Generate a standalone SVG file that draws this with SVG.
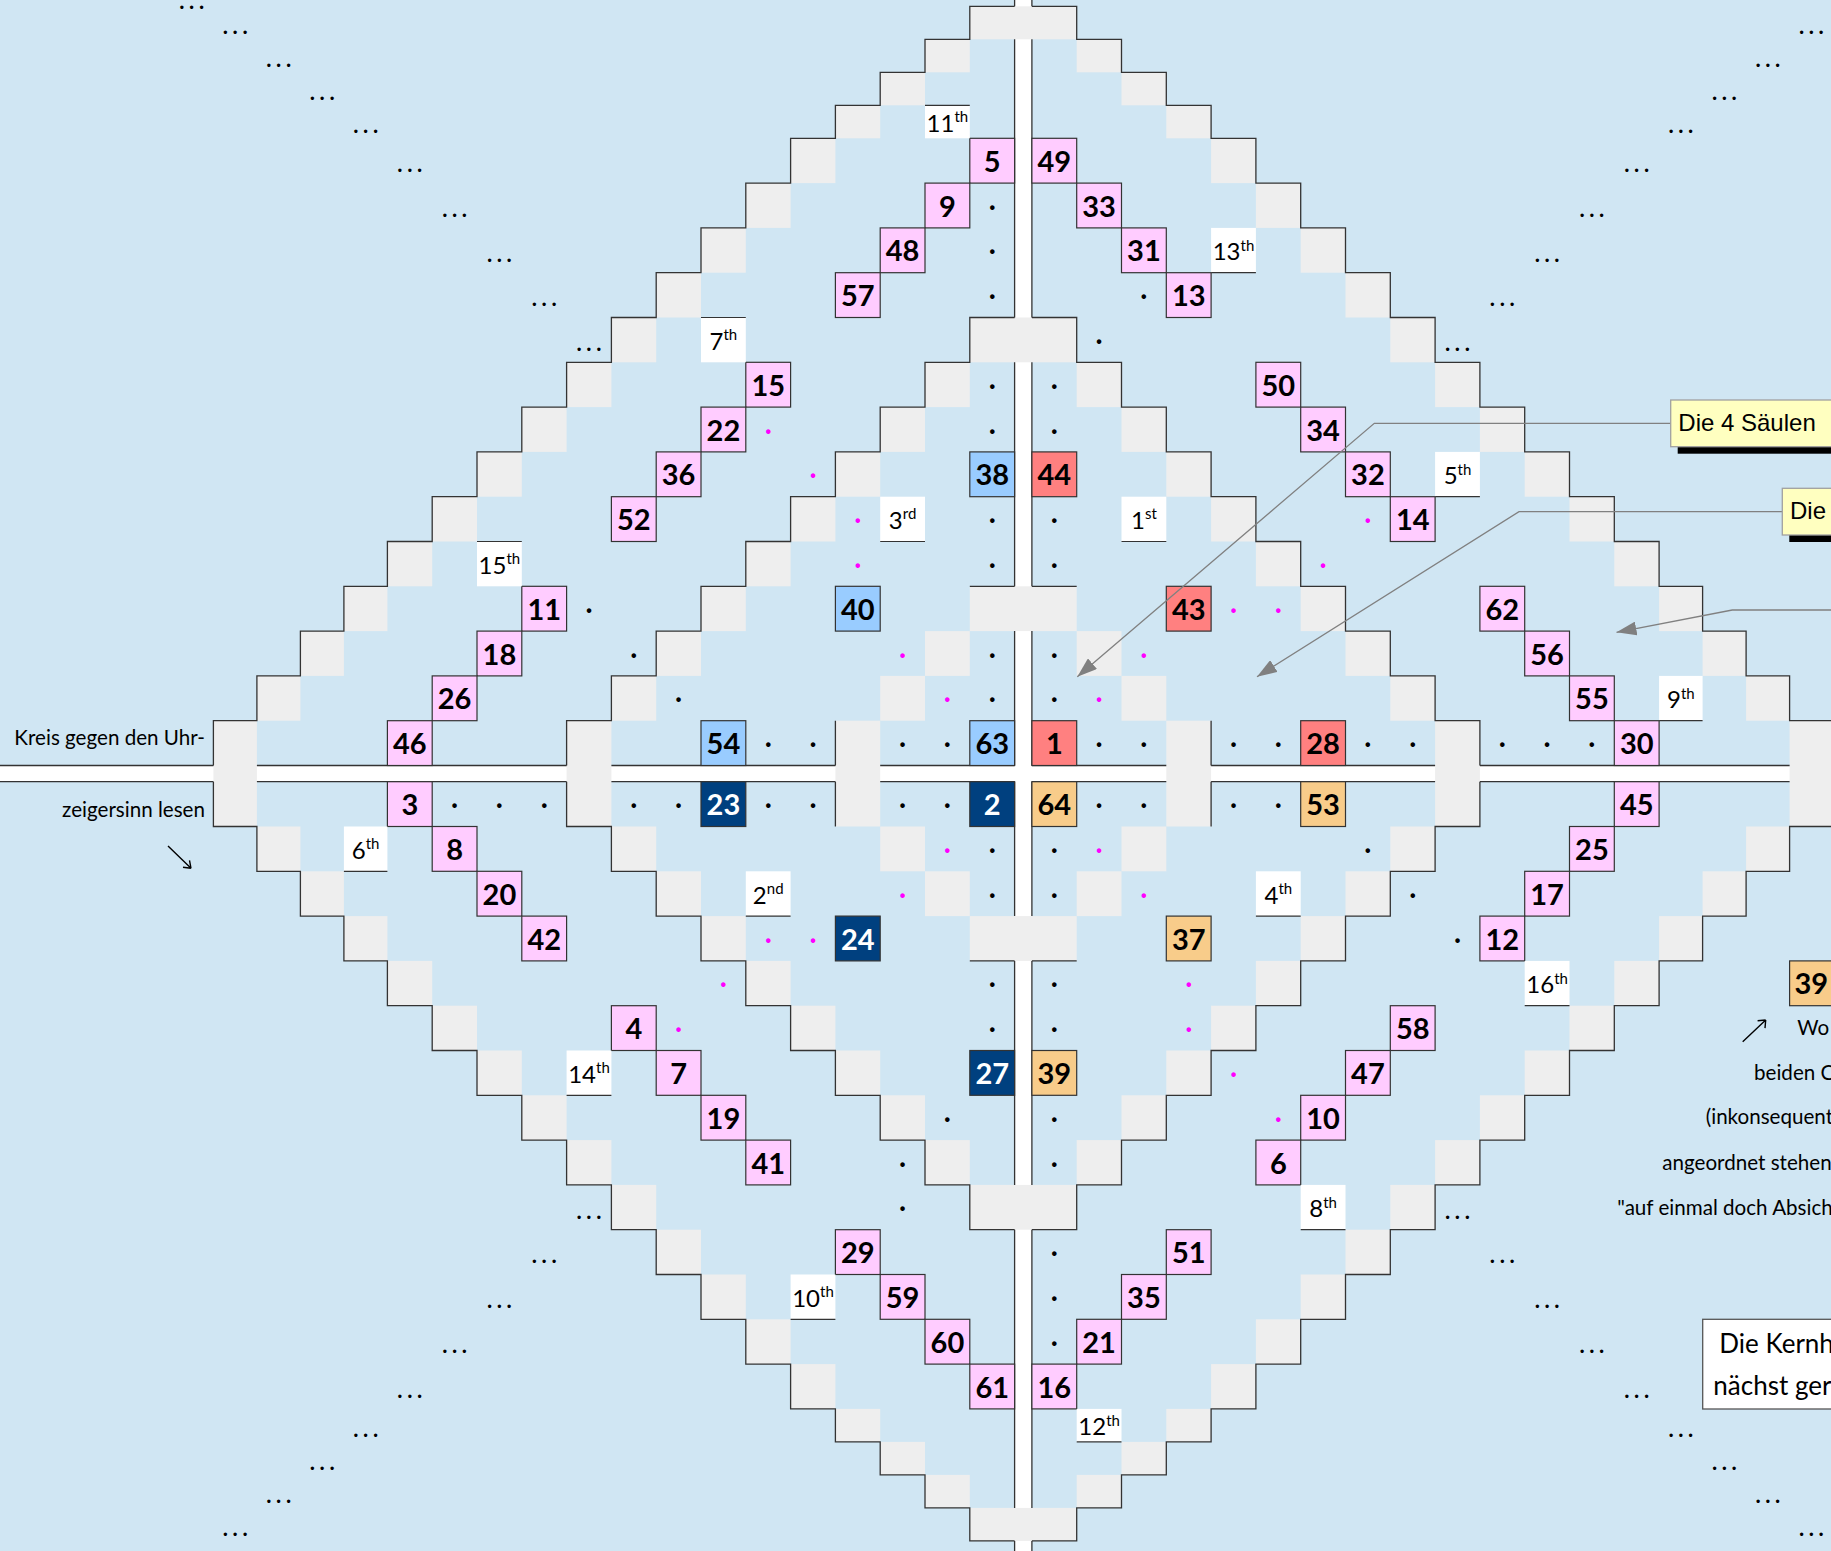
<svg xmlns="http://www.w3.org/2000/svg" width="1831" height="1551" viewBox="0 0 1831 1551">
<defs>
<style>
.bg{fill:#D0E6F3}
.bar{fill:#fff}
.g{fill:#EEEEEE}
.ol{fill:none;stroke:#333;stroke-width:1.3}
.pk{fill:#FFCCFF;stroke:#333;stroke-width:1.2}
.lb{fill:#99CCFF;stroke:#333;stroke-width:1.2}
.sa{fill:#FF8080;stroke:#333;stroke-width:1.2}
.nv{fill:#00407F;stroke:#333;stroke-width:1.2}
.pe{fill:#F8CC8A;stroke:#333;stroke-width:1.2}
.wl{fill:#fff}
.bl{fill:none;stroke:#333;stroke-width:1.2}
.num{font-family:Lato,"Open Sans",sans-serif;font-weight:700;font-size:29px;text-anchor:middle;fill:#000}
.wt{fill:#fff}
.lbl{font-family:Lato,"Open Sans",sans-serif;font-size:24px;text-anchor:middle;fill:#000}
.sup{font-size:15px}
.d{font-family:Lato,"Open Sans",sans-serif;font-weight:700;font-size:24px;text-anchor:middle;fill:#000}
.m{fill:#FF00FF}
.el{font-family:Lato,"Open Sans",sans-serif;font-weight:700;font-size:22px;letter-spacing:4.6px;text-anchor:middle;fill:#000}
.ann{font-family:Lato,"Open Sans",sans-serif;font-size:20.6px;fill:#000}
.cal{font-family:"Liberation Sans",Arial,sans-serif;font-size:24px;fill:#000}
.kern{font-family:Lato,"Open Sans",sans-serif;font-size:26px;fill:#000}
.lead{fill:none;stroke:#808080;stroke-width:1.3}
.arr{fill:none;stroke:#000;stroke-width:1.4}
</style>
<marker id="ah" viewBox="0 0 20 14" refX="20" refY="7" markerWidth="20" markerHeight="14" markerUnits="userSpaceOnUse" orient="auto">
<path d="M0,0 L20,7 L0,14 z" fill="#808080"/>
</marker>
</defs>

<rect class="bg" x="0" y="0" width="1831" height="1551"/>

<g id="bars">
<rect class="bar" x="1014.6" y="0" width="17.3" height="1551"/>
<rect class="bar" x="0" y="765.5" width="1831" height="16.2"/>
</g>

<g id="stairs">
<rect class="g" x="969.8" y="6.3" width="106.9" height="33"/>
<rect class="g" x="925" y="39.3" width="44.8" height="33"/><rect class="g" x="1076.7" y="39.3" width="44.8" height="33"/>
<rect class="g" x="880.2" y="72.3" width="44.8" height="33"/><rect class="g" x="1121.5" y="72.3" width="44.8" height="33"/>
<rect class="g" x="835.4" y="105.3" width="44.8" height="33"/><rect class="g" x="1166.3" y="105.3" width="44.8" height="33"/>
<rect class="g" x="790.6" y="138.3" width="44.8" height="44.8"/><rect class="g" x="1211.1" y="138.3" width="44.8" height="44.8"/>
<rect class="g" x="745.8" y="183.1" width="44.8" height="44.8"/><rect class="g" x="1255.9" y="183.1" width="44.8" height="44.8"/>
<rect class="g" x="701" y="227.9" width="44.8" height="44.8"/><rect class="g" x="1300.7" y="227.9" width="44.8" height="44.8"/>
<rect class="g" x="656.2" y="272.7" width="44.8" height="44.8"/><rect class="g" x="1345.5" y="272.7" width="44.8" height="44.8"/>
<rect class="g" x="611.4" y="317.5" width="44.8" height="44.8"/><rect class="g" x="1390.3" y="317.5" width="44.8" height="44.8"/>
<rect class="g" x="566.6" y="362.3" width="44.8" height="44.8"/><rect class="g" x="1435.1" y="362.3" width="44.8" height="44.8"/>
<rect class="g" x="521.8" y="407.1" width="44.8" height="44.8"/><rect class="g" x="1479.9" y="407.1" width="44.8" height="44.8"/>
<rect class="g" x="477" y="451.9" width="44.8" height="44.8"/><rect class="g" x="1524.7" y="451.9" width="44.8" height="44.8"/>
<rect class="g" x="432.2" y="496.7" width="44.8" height="44.8"/><rect class="g" x="1569.5" y="496.7" width="44.8" height="44.8"/>
<rect class="g" x="387.4" y="541.5" width="44.8" height="44.8"/><rect class="g" x="1614.3" y="541.5" width="44.8" height="44.8"/>
<rect class="g" x="343.9" y="586.3" width="43.5" height="44.8"/><rect class="g" x="1659.1" y="586.3" width="43.5" height="44.8"/>
<rect class="g" x="300.4" y="631.1" width="43.5" height="44.8"/><rect class="g" x="1702.6" y="631.1" width="43.5" height="44.8"/>
<rect class="g" x="256.9" y="675.9" width="43.5" height="44.8"/><rect class="g" x="1746.1" y="675.9" width="43.5" height="44.8"/>
<rect class="g" x="213.4" y="720.7" width="43.5" height="105.8"/><rect class="g" x="1789.6" y="720.7" width="43.5" height="105.8"/>
<rect class="g" x="256.9" y="826.5" width="43.5" height="44.8"/><rect class="g" x="1746.1" y="826.5" width="43.5" height="44.8"/>
<rect class="g" x="300.4" y="871.3" width="43.5" height="44.8"/><rect class="g" x="1702.6" y="871.3" width="43.5" height="44.8"/>
<rect class="g" x="343.9" y="916.1" width="43.5" height="44.8"/><rect class="g" x="1659.1" y="916.1" width="43.5" height="44.8"/>
<rect class="g" x="387.4" y="960.9" width="44.8" height="44.8"/><rect class="g" x="1614.3" y="960.9" width="44.8" height="44.8"/>
<rect class="g" x="432.2" y="1005.7" width="44.8" height="44.8"/><rect class="g" x="1569.5" y="1005.7" width="44.8" height="44.8"/>
<rect class="g" x="477" y="1050.5" width="44.8" height="44.8"/><rect class="g" x="1524.7" y="1050.5" width="44.8" height="44.8"/>
<rect class="g" x="521.8" y="1095.3" width="44.8" height="44.8"/><rect class="g" x="1479.9" y="1095.3" width="44.8" height="44.8"/>
<rect class="g" x="566.6" y="1140.1" width="44.8" height="44.8"/><rect class="g" x="1435.1" y="1140.1" width="44.8" height="44.8"/>
<rect class="g" x="611.4" y="1184.9" width="44.8" height="44.8"/><rect class="g" x="1390.3" y="1184.9" width="44.8" height="44.8"/>
<rect class="g" x="656.2" y="1229.7" width="44.8" height="44.8"/><rect class="g" x="1345.5" y="1229.7" width="44.8" height="44.8"/>
<rect class="g" x="701" y="1274.5" width="44.8" height="44.8"/><rect class="g" x="1300.7" y="1274.5" width="44.8" height="44.8"/>
<rect class="g" x="745.8" y="1319.3" width="44.8" height="44.8"/><rect class="g" x="1255.9" y="1319.3" width="44.8" height="44.8"/>
<rect class="g" x="790.6" y="1364.1" width="44.8" height="44.8"/><rect class="g" x="1211.1" y="1364.1" width="44.8" height="44.8"/>
<rect class="g" x="835.4" y="1408.9" width="44.8" height="33"/><rect class="g" x="1166.3" y="1408.9" width="44.8" height="33"/>
<rect class="g" x="880.2" y="1441.9" width="44.8" height="33"/><rect class="g" x="1121.5" y="1441.9" width="44.8" height="33"/>
<rect class="g" x="925" y="1474.9" width="44.8" height="33"/><rect class="g" x="1076.7" y="1474.9" width="44.8" height="33"/>
<rect class="g" x="969.8" y="1507.9" width="106.9" height="33"/>

<rect class="g" x="969.8" y="317.5" width="106.9" height="44.8"/>
<rect class="g" x="925" y="362.3" width="44.8" height="44.8"/><rect class="g" x="1076.7" y="362.3" width="44.8" height="44.8"/>
<rect class="g" x="880.2" y="407.1" width="44.8" height="44.8"/><rect class="g" x="1121.5" y="407.1" width="44.8" height="44.8"/>
<rect class="g" x="835.4" y="451.9" width="44.8" height="44.8"/><rect class="g" x="1166.3" y="451.9" width="44.8" height="44.8"/>
<rect class="g" x="790.6" y="496.7" width="44.8" height="44.8"/><rect class="g" x="1211.1" y="496.7" width="44.8" height="44.8"/>
<rect class="g" x="745.8" y="541.5" width="44.8" height="44.8"/><rect class="g" x="1255.9" y="541.5" width="44.8" height="44.8"/>
<rect class="g" x="701" y="586.3" width="44.8" height="44.8"/><rect class="g" x="1300.7" y="586.3" width="44.8" height="44.8"/>
<rect class="g" x="656.2" y="631.1" width="44.8" height="44.8"/><rect class="g" x="1345.5" y="631.1" width="44.8" height="44.8"/>
<rect class="g" x="611.4" y="675.9" width="44.8" height="44.8"/><rect class="g" x="1390.3" y="675.9" width="44.8" height="44.8"/>
<rect class="g" x="566.6" y="720.7" width="44.8" height="105.8"/><rect class="g" x="1435.1" y="720.7" width="44.8" height="105.8"/>
<rect class="g" x="611.4" y="826.5" width="44.8" height="44.8"/><rect class="g" x="1390.3" y="826.5" width="44.8" height="44.8"/>
<rect class="g" x="656.2" y="871.3" width="44.8" height="44.8"/><rect class="g" x="1345.5" y="871.3" width="44.8" height="44.8"/>
<rect class="g" x="701" y="916.1" width="44.8" height="44.8"/><rect class="g" x="1300.7" y="916.1" width="44.8" height="44.8"/>
<rect class="g" x="745.8" y="960.9" width="44.8" height="44.8"/><rect class="g" x="1255.9" y="960.9" width="44.8" height="44.8"/>
<rect class="g" x="790.6" y="1005.7" width="44.8" height="44.8"/><rect class="g" x="1211.1" y="1005.7" width="44.8" height="44.8"/>
<rect class="g" x="835.4" y="1050.5" width="44.8" height="44.8"/><rect class="g" x="1166.3" y="1050.5" width="44.8" height="44.8"/>
<rect class="g" x="880.2" y="1095.3" width="44.8" height="44.8"/><rect class="g" x="1121.5" y="1095.3" width="44.8" height="44.8"/>
<rect class="g" x="925" y="1140.1" width="44.8" height="44.8"/><rect class="g" x="1076.7" y="1140.1" width="44.8" height="44.8"/>
<rect class="g" x="969.8" y="1184.9" width="106.9" height="44.8"/>

<rect class="g" x="969.8" y="586.3" width="106.9" height="44.8"/>
<rect class="g" x="925" y="631.1" width="44.8" height="44.8"/><rect class="g" x="1076.7" y="631.1" width="44.8" height="44.8"/>
<rect class="g" x="880.2" y="675.9" width="44.8" height="44.8"/><rect class="g" x="1121.5" y="675.9" width="44.8" height="44.8"/>
<rect class="g" x="835.4" y="720.7" width="44.8" height="105.8"/><rect class="g" x="1166.3" y="720.7" width="44.8" height="105.8"/>
<rect class="g" x="880.2" y="826.5" width="44.8" height="44.8"/><rect class="g" x="1121.5" y="826.5" width="44.8" height="44.8"/>
<rect class="g" x="925" y="871.3" width="44.8" height="44.8"/><rect class="g" x="1076.7" y="871.3" width="44.8" height="44.8"/>
<rect class="g" x="969.8" y="916.1" width="106.9" height="44.8"/>
</g>

<g id="outlines">
<path class="ol" d="M1014.6 6.3 H969.8 V39.3 H925 V72.3 H880.2 V105.3 H835.4 V138.3 H790.6 V183.1 H745.8 V227.9 H701 V272.7 H656.2 V317.5 H611.4 V362.3 H566.6 V407.1 H521.8 V451.9 H477 V496.7 H432.2 V541.5 H387.4 V586.3 H343.9 V631.1 H300.4 V675.9 H256.9 V720.7 H213.4 V765.5"/>
<path class="ol" d="M213.4 781.7 V826.5 H256.9 V871.3 H300.4 V916.1 H343.9 V960.9 H387.4 V1005.7 H432.2 V1050.5 H477 V1095.3 H521.8 V1140.1 H566.6 V1184.9 H611.4 V1229.7 H656.2 V1274.5 H701 V1319.3 H745.8 V1364.1 H790.6 V1408.9 H835.4 V1441.9 H880.2 V1474.9 H925 V1507.9 H969.8 V1540.9 H1014.6"/>
<path class="ol" d="M1031.9 1540.9 H1076.7 V1507.9 H1121.5 V1474.9 H1166.3 V1441.9 H1211.1 V1408.9 H1255.9 V1364.1 H1300.7 V1319.3 H1345.5 V1274.5 H1390.3 V1229.7 H1435.1 V1184.9 H1479.9 V1140.1 H1524.7 V1095.3 H1569.5 V1050.5 H1614.3 V1005.7 H1659.1 V960.9 H1702.6 V916.1 H1746.1 V871.3 H1789.6 V826.5 H1833.1"/>
<path class="ol" d="M1833.1 720.7 H1789.6 V675.9 H1746.1 V631.1 H1702.6 V586.3 H1659.1 V541.5 H1614.3 V496.7 H1569.5 V451.9 H1524.7 V407.1 H1479.9 V362.3 H1435.1 V317.5 H1390.3 V272.7 H1345.5 V227.9 H1300.7 V183.1 H1255.9 V138.3 H1211.1 V105.3 H1166.3 V72.3 H1121.5 V39.3 H1076.7 V6.3 H1031.9"/>
<path class="ol" d="M1014.6 317.5 H969.8 V362.3 H925 V407.1 H880.2 V451.9 H835.4 V496.7 H790.6 V541.5 H745.8 V586.3 H701 V631.1 H656.2 V675.9 H611.4 V720.7 H566.6 V765.5"/>
<path class="ol" d="M566.6 781.7 V826.5 H611.4 V871.3 H656.2 V916.1 H701 V960.9 H745.8 V1005.7 H790.6 V1050.5 H835.4 V1095.3 H880.2 V1140.1 H925 V1184.9 H969.8 V1229.7 H1014.6"/>
<path class="ol" d="M1031.9 1229.7 H1076.7 V1184.9 H1121.5 V1140.1 H1166.3 V1095.3 H1211.1 V1050.5 H1255.9 V1005.7 H1300.7 V960.9 H1345.5 V916.1 H1390.3 V871.3 H1435.1 V826.5 H1479.9 V781.7"/>
<path class="ol" d="M1479.9 765.5 V720.7 H1435.1 V675.9 H1390.3 V631.1 H1345.5 V586.3 H1300.7 V541.5 H1255.9 V496.7 H1211.1 V451.9 H1166.3 V407.1 H1121.5 V362.3 H1076.7 V317.5 H1031.9"/>
<path class="ol" d="M969.8 586.3 H1014.6 M1031.9 586.3 H1076.7 M969.8 960.9 H1014.6 M1031.9 960.9 H1076.7 M835.4 720.7 V765.5 M835.4 781.7 V826.5 M1211.1 720.7 V765.5 M1211.1 781.7 V826.5"/>
<path class="ol" d="M1014.6 0 V6.3 M1014.6 39.3 V317.5 M1014.6 362.3 V586.3 M1014.6 631.1 V765.5 M1014.6 781.7 V916.1 M1014.6 960.9 V1184.9 M1014.6 1229.7 V1507.9 M1014.6 1540.9 V1551 M1031.9 0 V6.3 M1031.9 39.3 V317.5 M1031.9 362.3 V586.3 M1031.9 631.1 V765.5 M1031.9 781.7 V916.1 M1031.9 960.9 V1184.9 M1031.9 1229.7 V1507.9 M1031.9 1540.9 V1551"/>
<path class="ol" d="M0 765.5 H213.4 M256.9 765.5 H566.6 M611.4 765.5 H835.4 M880.2 765.5 H1014.6 M1031.9 765.5 H1166.3 M1211.1 765.5 H1435.1 M1479.9 765.5 H1789.6 M0 781.7 H213.4 M256.9 781.7 H566.6 M611.4 781.7 H835.4 M880.2 781.7 H1014.6 M1031.9 781.7 H1166.3 M1211.1 781.7 H1435.1 M1479.9 781.7 H1789.6"/>
</g>

<g id="cells">
<g id="c5"><rect class="pk" x="969.8" y="138.3" width="44.8" height="44.8"/><text class="num" x="992.2" y="171.7">5</text></g>
<g id="c9"><rect class="pk" x="925" y="183.1" width="44.8" height="44.8"/><text class="num" x="947.4" y="216.5">9</text></g>
<g id="c48"><rect class="pk" x="880.2" y="227.9" width="44.8" height="44.8"/><text class="num" x="902.6" y="261.3">48</text></g>
<g id="c57"><rect class="pk" x="835.4" y="272.7" width="44.8" height="44.8"/><text class="num" x="857.8" y="306.1">57</text></g>
<g id="c49"><rect class="pk" x="1031.9" y="138.3" width="44.8" height="44.8"/><text class="num" x="1054.3" y="171.7">49</text></g>
<g id="c33"><rect class="pk" x="1076.7" y="183.1" width="44.8" height="44.8"/><text class="num" x="1099.1" y="216.5">33</text></g>
<g id="c31"><rect class="pk" x="1121.5" y="227.9" width="44.8" height="44.8"/><text class="num" x="1143.9" y="261.3">31</text></g>
<g id="c13"><rect class="pk" x="1166.3" y="272.7" width="44.8" height="44.8"/><text class="num" x="1188.7" y="306.1">13</text></g>
<g id="c15"><rect class="pk" x="745.8" y="362.3" width="44.8" height="44.8"/><text class="num" x="768.2" y="395.7">15</text></g>
<g id="c22"><rect class="pk" x="701" y="407.1" width="44.8" height="44.8"/><text class="num" x="723.4" y="440.5">22</text></g>
<g id="c36"><rect class="pk" x="656.2" y="451.9" width="44.8" height="44.8"/><text class="num" x="678.6" y="485.3">36</text></g>
<g id="c52"><rect class="pk" x="611.4" y="496.7" width="44.8" height="44.8"/><text class="num" x="633.8" y="530.1">52</text></g>
<g id="c50"><rect class="pk" x="1255.9" y="362.3" width="44.8" height="44.8"/><text class="num" x="1278.3" y="395.7">50</text></g>
<g id="c34"><rect class="pk" x="1300.7" y="407.1" width="44.8" height="44.8"/><text class="num" x="1323.1" y="440.5">34</text></g>
<g id="c32"><rect class="pk" x="1345.5" y="451.9" width="44.8" height="44.8"/><text class="num" x="1367.9" y="485.3">32</text></g>
<g id="c14"><rect class="pk" x="1390.3" y="496.7" width="44.8" height="44.8"/><text class="num" x="1412.7" y="530.1">14</text></g>
<g id="c11"><rect class="pk" x="521.8" y="586.3" width="44.8" height="44.8"/><text class="num" x="544.2" y="619.7">11</text></g>
<g id="c18"><rect class="pk" x="477" y="631.1" width="44.8" height="44.8"/><text class="num" x="499.4" y="664.5">18</text></g>
<g id="c26"><rect class="pk" x="432.2" y="675.9" width="44.8" height="44.8"/><text class="num" x="454.6" y="709.3">26</text></g>
<g id="c46"><rect class="pk" x="387.4" y="720.7" width="44.8" height="44.8"/><text class="num" x="409.8" y="754.1">46</text></g>
<g id="c62"><rect class="pk" x="1479.9" y="586.3" width="44.8" height="44.8"/><text class="num" x="1502.3" y="619.7">62</text></g>
<g id="c56"><rect class="pk" x="1524.7" y="631.1" width="44.8" height="44.8"/><text class="num" x="1547.1" y="664.5">56</text></g>
<g id="c55"><rect class="pk" x="1569.5" y="675.9" width="44.8" height="44.8"/><text class="num" x="1591.9" y="709.3">55</text></g>
<g id="c30"><rect class="pk" x="1614.3" y="720.7" width="44.8" height="44.8"/><text class="num" x="1636.7" y="754.1">30</text></g>
<g id="c3"><rect class="pk" x="387.4" y="781.7" width="44.8" height="44.8"/><text class="num" x="409.8" y="815.1">3</text></g>
<g id="c8"><rect class="pk" x="432.2" y="826.5" width="44.8" height="44.8"/><text class="num" x="454.6" y="859.9">8</text></g>
<g id="c20"><rect class="pk" x="477" y="871.3" width="44.8" height="44.8"/><text class="num" x="499.4" y="904.7">20</text></g>
<g id="c42"><rect class="pk" x="521.8" y="916.1" width="44.8" height="44.8"/><text class="num" x="544.2" y="949.5">42</text></g>
<g id="c4"><rect class="pk" x="611.4" y="1005.7" width="44.8" height="44.8"/><text class="num" x="633.8" y="1039.1">4</text></g>
<g id="c7"><rect class="pk" x="656.2" y="1050.5" width="44.8" height="44.8"/><text class="num" x="678.6" y="1083.9">7</text></g>
<g id="c19"><rect class="pk" x="701" y="1095.3" width="44.8" height="44.8"/><text class="num" x="723.4" y="1128.7">19</text></g>
<g id="c41"><rect class="pk" x="745.8" y="1140.1" width="44.8" height="44.8"/><text class="num" x="768.2" y="1173.5">41</text></g>
<g id="c29"><rect class="pk" x="835.4" y="1229.7" width="44.8" height="44.8"/><text class="num" x="857.8" y="1263.1">29</text></g>
<g id="c59"><rect class="pk" x="880.2" y="1274.5" width="44.8" height="44.8"/><text class="num" x="902.6" y="1307.9">59</text></g>
<g id="c60"><rect class="pk" x="925" y="1319.3" width="44.8" height="44.8"/><text class="num" x="947.4" y="1352.7">60</text></g>
<g id="c61"><rect class="pk" x="969.8" y="1364.1" width="44.8" height="44.8"/><text class="num" x="992.2" y="1397.5">61</text></g>
<g id="c45"><rect class="pk" x="1614.3" y="781.7" width="44.8" height="44.8"/><text class="num" x="1636.7" y="815.1">45</text></g>
<g id="c25"><rect class="pk" x="1569.5" y="826.5" width="44.8" height="44.8"/><text class="num" x="1591.9" y="859.9">25</text></g>
<g id="c17"><rect class="pk" x="1524.7" y="871.3" width="44.8" height="44.8"/><text class="num" x="1547.1" y="904.7">17</text></g>
<g id="c12"><rect class="pk" x="1479.9" y="916.1" width="44.8" height="44.8"/><text class="num" x="1502.3" y="949.5">12</text></g>
<g id="c58"><rect class="pk" x="1390.3" y="1005.7" width="44.8" height="44.8"/><text class="num" x="1412.7" y="1039.1">58</text></g>
<g id="c47"><rect class="pk" x="1345.5" y="1050.5" width="44.8" height="44.8"/><text class="num" x="1367.9" y="1083.9">47</text></g>
<g id="c10"><rect class="pk" x="1300.7" y="1095.3" width="44.8" height="44.8"/><text class="num" x="1323.1" y="1128.7">10</text></g>
<g id="c6"><rect class="pk" x="1255.9" y="1140.1" width="44.8" height="44.8"/><text class="num" x="1278.3" y="1173.5">6</text></g>
<g id="c51"><rect class="pk" x="1166.3" y="1229.7" width="44.8" height="44.8"/><text class="num" x="1188.7" y="1263.1">51</text></g>
<g id="c35"><rect class="pk" x="1121.5" y="1274.5" width="44.8" height="44.8"/><text class="num" x="1143.9" y="1307.9">35</text></g>
<g id="c21"><rect class="pk" x="1076.7" y="1319.3" width="44.8" height="44.8"/><text class="num" x="1099.1" y="1352.7">21</text></g>
<g id="c16"><rect class="pk" x="1031.9" y="1364.1" width="44.8" height="44.8"/><text class="num" x="1054.3" y="1397.5">16</text></g>

<g id="c38"><rect class="lb" x="969.8" y="451.9" width="44.8" height="44.8"/><text class="num" x="992.2" y="485.3">38</text></g>
<g id="c44"><rect class="sa" x="1031.9" y="451.9" width="44.8" height="44.8"/><text class="num" x="1054.3" y="485.3">44</text></g>
<g id="c40"><rect class="lb" x="835.4" y="586.3" width="44.8" height="44.8"/><text class="num" x="857.8" y="619.7">40</text></g>
<g id="c43"><rect class="sa" x="1166.3" y="586.3" width="44.8" height="44.8"/><text class="num" x="1188.7" y="619.7">43</text></g>
<g id="c54"><rect class="lb" x="701" y="720.7" width="44.8" height="44.8"/><text class="num" x="723.4" y="754.1">54</text></g>
<g id="c63"><rect class="lb" x="969.8" y="720.7" width="44.8" height="44.8"/><text class="num" x="992.2" y="754.1">63</text></g>
<g id="c1"><rect class="sa" x="1031.9" y="720.7" width="44.8" height="44.8"/><text class="num" x="1054.3" y="754.1">1</text></g>
<g id="c28"><rect class="sa" x="1300.7" y="720.7" width="44.8" height="44.8"/><text class="num" x="1323.1" y="754.1">28</text></g>
<g id="c23"><rect class="nv" x="701" y="781.7" width="44.8" height="44.8"/><text class="num wt" x="723.4" y="815.1">23</text></g>
<g id="c2"><rect class="nv" x="969.8" y="781.7" width="44.8" height="44.8"/><text class="num wt" x="992.2" y="815.1">2</text></g>
<g id="c64"><rect class="pe" x="1031.9" y="781.7" width="44.8" height="44.8"/><text class="num" x="1054.3" y="815.1">64</text></g>
<g id="c53"><rect class="pe" x="1300.7" y="781.7" width="44.8" height="44.8"/><text class="num" x="1323.1" y="815.1">53</text></g>
<g id="c24"><rect class="nv" x="835.4" y="916.1" width="44.8" height="44.8"/><text class="num wt" x="857.8" y="949.5">24</text></g>
<g id="c37"><rect class="pe" x="1166.3" y="916.1" width="44.8" height="44.8"/><text class="num" x="1188.7" y="949.5">37</text></g>
<g id="c27"><rect class="nv" x="969.8" y="1050.5" width="44.8" height="44.8"/><text class="num wt" x="992.2" y="1083.9">27</text></g>
<g id="c39"><rect class="pe" x="1031.9" y="1050.5" width="44.8" height="44.8"/><text class="num" x="1054.3" y="1083.9">39</text></g>
<g id="c39b"><rect class="pe" x="1789.6" y="960.9" width="43.5" height="44.8"/><text class="num" x="1811.35" y="994.3">39</text></g>
</g>

<g id="labels">
<g id="l11th"><rect class="wl" x="925" y="105.3" width="44.8" height="33"/><path class="bl" d="M925 105.3 H969.8"/><text class="lbl" x="947.4" y="131.6">11<tspan class="sup" dy="-9.5">th</tspan></text></g>
<g id="l13th"><rect class="wl" x="1211.1" y="227.9" width="44.8" height="44.8"/><path class="bl" d="M1211.1 272.7 H1255.9"/><text class="lbl" x="1233.5" y="260.1">13<tspan class="sup" dy="-9.5">th</tspan></text></g>
<g id="l7th"><rect class="wl" x="701" y="317.5" width="44.8" height="44.8"/><path class="bl" d="M701 317.5 H745.8"/><text class="lbl" x="723.4" y="349.7">7<tspan class="sup" dy="-9.5">th</tspan></text></g>
<g id="l5th"><rect class="wl" x="1435.1" y="451.9" width="44.8" height="44.8"/><path class="bl" d="M1435.1 496.7 H1479.9"/><text class="lbl" x="1457.5" y="484.1">5<tspan class="sup" dy="-9.5">th</tspan></text></g>
<g id="l3rd"><rect class="wl" x="880.2" y="496.7" width="44.8" height="44.8"/><path class="bl" d="M880.2 541.5 H925"/><text class="lbl" x="902.6" y="528.9">3<tspan class="sup" dy="-9.5">rd</tspan></text></g>
<g id="l1st"><rect class="wl" x="1121.5" y="496.7" width="44.8" height="44.8"/><path class="bl" d="M1121.5 541.5 H1166.3"/><text class="lbl" x="1143.9" y="528.9">1<tspan class="sup" dy="-9.5">st</tspan></text></g>
<g id="l15th"><rect class="wl" x="477" y="541.5" width="44.8" height="44.8"/><path class="bl" d="M477 541.5 H521.8"/><text class="lbl" x="499.4" y="573.7">15<tspan class="sup" dy="-9.5">th</tspan></text></g>
<g id="l9th"><rect class="wl" x="1659.1" y="675.9" width="43.5" height="44.8"/><path class="bl" d="M1659.1 720.7 H1702.6"/><text class="lbl" x="1680.85" y="708.1">9<tspan class="sup" dy="-9.5">th</tspan></text></g>
<g id="l6th"><rect class="wl" x="343.9" y="826.5" width="43.5" height="44.8"/><path class="bl" d="M343.9 871.3 H387.4"/><text class="lbl" x="365.65" y="858.7">6<tspan class="sup" dy="-9.5">th</tspan></text></g>
<g id="l2nd"><rect class="wl" x="745.8" y="871.3" width="44.8" height="44.8"/><path class="bl" d="M745.8 916.1 H790.6"/><text class="lbl" x="768.2" y="903.5">2<tspan class="sup" dy="-9.5">nd</tspan></text></g>
<g id="l4th"><rect class="wl" x="1255.9" y="871.3" width="44.8" height="44.8"/><path class="bl" d="M1255.9 916.1 H1300.7"/><text class="lbl" x="1278.3" y="903.5">4<tspan class="sup" dy="-9.5">th</tspan></text></g>
<g id="l16th"><rect class="wl" x="1524.7" y="960.9" width="44.8" height="44.8"/><path class="bl" d="M1524.7 1005.7 H1569.5"/><text class="lbl" x="1547.1" y="993.1">16<tspan class="sup" dy="-9.5">th</tspan></text></g>
<g id="l14th"><rect class="wl" x="566.6" y="1050.5" width="44.8" height="44.8"/><path class="bl" d="M566.6 1095.3 H611.4"/><text class="lbl" x="589" y="1082.7">14<tspan class="sup" dy="-9.5">th</tspan></text></g>
<g id="l8th"><rect class="wl" x="1300.7" y="1184.9" width="44.8" height="44.8"/><path class="bl" d="M1300.7 1229.7 H1345.5"/><text class="lbl" x="1323.1" y="1217.1">8<tspan class="sup" dy="-9.5">th</tspan></text></g>
<g id="l10th"><rect class="wl" x="790.6" y="1274.5" width="44.8" height="44.8"/><path class="bl" d="M790.6 1319.3 H835.4"/><text class="lbl" x="813" y="1306.7">10<tspan class="sup" dy="-9.5">th</tspan></text></g>
<g id="l12th"><rect class="wl" x="1076.7" y="1408.9" width="44.8" height="33"/><path class="bl" d="M1076.7 1441.9 H1121.5"/><text class="lbl" x="1099.1" y="1435.2">12<tspan class="sup" dy="-9.5">th</tspan></text></g>
</g>

<g id="dots">
<text class="d" x="992.2" y="214.5">·</text>
<text class="d" x="992.2" y="259.3">·</text>
<text class="d" x="992.2" y="304.1">·</text>
<text class="d" x="1143.9" y="304.1">·</text>
<text class="d" x="1099.1" y="348.9">·</text>
<text class="d" x="992.2" y="393.7">·</text>
<text class="d" x="1054.3" y="393.7">·</text>
<text class="d" x="992.2" y="438.5">·</text>
<text class="d" x="1054.3" y="438.5">·</text>
<text class="d" x="992.2" y="528.1">·</text>
<text class="d" x="1054.3" y="528.1">·</text>
<text class="d" x="992.2" y="572.9">·</text>
<text class="d" x="1054.3" y="572.9">·</text>
<text class="d" x="589" y="617.7">·</text>
<text class="d" x="633.8" y="662.5">·</text>
<text class="d" x="992.2" y="662.5">·</text>
<text class="d" x="1054.3" y="662.5">·</text>
<text class="d" x="678.6" y="707.3">·</text>
<text class="d" x="992.2" y="707.3">·</text>
<text class="d" x="1054.3" y="707.3">·</text>
<text class="d" x="768.2" y="752.1">·</text>
<text class="d" x="813" y="752.1">·</text>
<text class="d" x="902.6" y="752.1">·</text>
<text class="d" x="947.4" y="752.1">·</text>
<text class="d" x="1099.1" y="752.1">·</text>
<text class="d" x="1143.9" y="752.1">·</text>
<text class="d" x="1233.5" y="752.1">·</text>
<text class="d" x="1278.3" y="752.1">·</text>
<text class="d" x="1367.9" y="752.1">·</text>
<text class="d" x="1412.7" y="752.1">·</text>
<text class="d" x="1502.3" y="752.1">·</text>
<text class="d" x="1547.1" y="752.1">·</text>
<text class="d" x="1591.9" y="752.1">·</text>
<text class="d" x="454.6" y="813.1">·</text>
<text class="d" x="499.4" y="813.1">·</text>
<text class="d" x="544.2" y="813.1">·</text>
<text class="d" x="633.8" y="813.1">·</text>
<text class="d" x="678.6" y="813.1">·</text>
<text class="d" x="768.2" y="813.1">·</text>
<text class="d" x="813" y="813.1">·</text>
<text class="d" x="902.6" y="813.1">·</text>
<text class="d" x="947.4" y="813.1">·</text>
<text class="d" x="1099.1" y="813.1">·</text>
<text class="d" x="1143.9" y="813.1">·</text>
<text class="d" x="1233.5" y="813.1">·</text>
<text class="d" x="1278.3" y="813.1">·</text>
<text class="d" x="992.2" y="857.9">·</text>
<text class="d" x="1054.3" y="857.9">·</text>
<text class="d" x="1367.9" y="857.9">·</text>
<text class="d" x="992.2" y="902.7">·</text>
<text class="d" x="1054.3" y="902.7">·</text>
<text class="d" x="1412.7" y="902.7">·</text>
<text class="d" x="1457.5" y="947.5">·</text>
<text class="d" x="992.2" y="992.3">·</text>
<text class="d" x="1054.3" y="992.3">·</text>
<text class="d" x="992.2" y="1037.1">·</text>
<text class="d" x="1054.3" y="1037.1">·</text>
<text class="d" x="947.4" y="1126.7">·</text>
<text class="d" x="1054.3" y="1126.7">·</text>
<text class="d" x="902.6" y="1171.5">·</text>
<text class="d" x="1054.3" y="1171.5">·</text>
<text class="d" x="902.6" y="1216.3">·</text>
<text class="d" x="1054.3" y="1261.1">·</text>
<text class="d" x="1054.3" y="1305.9">·</text>
<text class="d" x="1054.3" y="1350.7">·</text>
<text class="d m" x="768.2" y="438.5">·</text>
<text class="d m" x="813" y="483.3">·</text>
<text class="d m" x="857.8" y="528.1">·</text>
<text class="d m" x="1367.9" y="528.1">·</text>
<text class="d m" x="857.8" y="572.9">·</text>
<text class="d m" x="1323.1" y="572.9">·</text>
<text class="d m" x="1233.5" y="617.7">·</text>
<text class="d m" x="1278.3" y="617.7">·</text>
<text class="d m" x="902.6" y="662.5">·</text>
<text class="d m" x="1143.9" y="662.5">·</text>
<text class="d m" x="947.4" y="707.3">·</text>
<text class="d m" x="1099.1" y="707.3">·</text>
<text class="d m" x="947.4" y="857.9">·</text>
<text class="d m" x="1099.1" y="857.9">·</text>
<text class="d m" x="902.6" y="902.7">·</text>
<text class="d m" x="1143.9" y="902.7">·</text>
<text class="d m" x="768.2" y="947.5">·</text>
<text class="d m" x="813" y="947.5">·</text>
<text class="d m" x="723.4" y="992.3">·</text>
<text class="d m" x="1188.7" y="992.3">·</text>
<text class="d m" x="678.6" y="1037.1">·</text>
<text class="d m" x="1188.7" y="1037.1">·</text>
<text class="d m" x="1233.5" y="1081.9">·</text>
<text class="d m" x="1278.3" y="1126.7">·</text>
</g>

<g id="ellipses">
<text class="el" x="194" y="9">...</text>
<text class="el" x="237.5" y="34.1">...</text>
<text class="el" x="281" y="67.1">...</text>
<text class="el" x="324.5" y="100.1">...</text>
<text class="el" x="368" y="133.1">...</text>
<text class="el" x="412.1" y="172">...</text>
<text class="el" x="456.9" y="216.8">...</text>
<text class="el" x="501.7" y="261.6">...</text>
<text class="el" x="546.5" y="306.4">...</text>
<text class="el" x="591.3" y="351.2">...</text>
<text class="el" x="1459.8" y="351.2">...</text>
<text class="el" x="1504.6" y="306.4">...</text>
<text class="el" x="1549.4" y="261.6">...</text>
<text class="el" x="1594.2" y="216.8">...</text>
<text class="el" x="1639" y="172">...</text>
<text class="el" x="1683.2" y="133.1">...</text>
<text class="el" x="1726.7" y="100.1">...</text>
<text class="el" x="1770.2" y="67.1">...</text>
<text class="el" x="1813.7" y="34.1">...</text>
<text class="el" x="591.3" y="1218.6">...</text>
<text class="el" x="546.5" y="1263.4">...</text>
<text class="el" x="501.7" y="1308.2">...</text>
<text class="el" x="456.9" y="1353">...</text>
<text class="el" x="412.1" y="1397.8">...</text>
<text class="el" x="368" y="1436.7">...</text>
<text class="el" x="324.5" y="1469.7">...</text>
<text class="el" x="281" y="1502.7">...</text>
<text class="el" x="237.5" y="1535.7">...</text>
<text class="el" x="1459.8" y="1218.6">...</text>
<text class="el" x="1504.6" y="1263.4">...</text>
<text class="el" x="1549.4" y="1308.2">...</text>
<text class="el" x="1594.2" y="1353">...</text>
<text class="el" x="1639" y="1397.8">...</text>
<text class="el" x="1683.2" y="1436.7">...</text>
<text class="el" x="1726.7" y="1469.7">...</text>
<text class="el" x="1770.2" y="1502.7">...</text>
<text class="el" x="1813.7" y="1535.7">...</text>
</g>

<g id="note-left">
<text class="ann" x="205" y="745" text-anchor="end">Kreis gegen den Uhr-</text>
<text class="ann" x="205" y="817" text-anchor="end">zeigersinn lesen</text>
<path class="arr" d="M168 846 L191 868.3 M191 868.3 L189.5 860.3 M191 868.3 L183 867.2"/>
</g>

<g id="note-right">
<path class="arr" d="M1742.7 1041.7 L1765.7 1020 M1765.7 1020 L1757.6 1020.8 M1765.7 1020 L1765 1028.1"/>
<text class="ann" x="1797.3" y="1035">Wo</text>
<text class="ann" x="1754" y="1080">beiden C</text>
<text class="ann" x="1705.7" y="1124">(inkonsequent</text>
<text class="ann" x="1662.3" y="1170">angeordnet stehen</text>
<text class="ann" x="1617.3" y="1215">"auf einmal doch Absich</text>
</g>

<g id="box-kern">
<rect x="1702.7" y="1319.3" width="140" height="89.7" fill="#fff" stroke="#555" stroke-width="1.3"/>
<text class="kern" x="1719.3" y="1353.3">Die Kernh</text>
<text class="kern" x="1713.3" y="1395">nächst ger</text>
</g>

<g id="connectors">
<path class="lead" d="M1670.7 423.3 H1374.3 L1077.3 676.7" marker-end="url(#ah)"/>
<path class="lead" d="M1782.3 511.7 H1519 L1257 676.7" marker-end="url(#ah)"/>
<path class="lead" d="M1831 610 H1732.3 L1616.5 632.3" marker-end="url(#ah)"/>
</g>

<g id="callout1">
<rect x="1677.7" y="407" width="170" height="46.7" fill="#000"/>
<rect x="1670.7" y="400" width="170" height="46.7" fill="#FFFFC0" stroke="#A0A0A0" stroke-width="1.3"/>
<text class="cal" x="1678.3" y="430.5">Die 4 Säulen</text>
</g>
<g id="callout2">
<rect x="1789.3" y="495.3" width="60" height="46.7" fill="#000"/>
<rect x="1782.3" y="488.3" width="60" height="46.7" fill="#FFFFC0" stroke="#A0A0A0" stroke-width="1.3"/>
<text class="cal" x="1790" y="518.5">Die</text>
</g>
</svg>
